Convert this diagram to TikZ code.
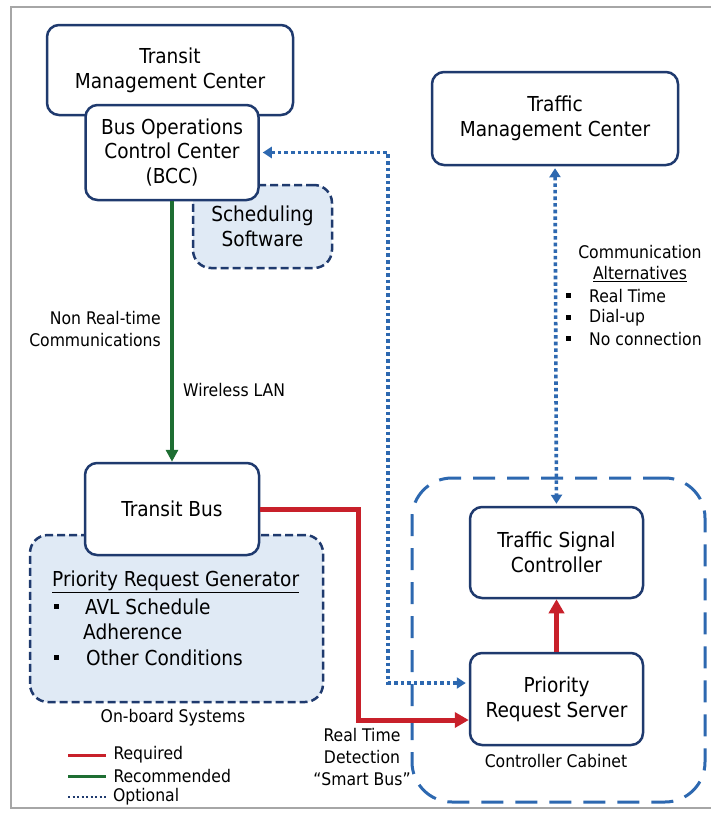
\documentclass[tikz,border=0pt]{standalone}
\usepackage{fontspec}
\setmainfont{DejaVu Sans Condensed}
\usetikzlibrary{arrows.meta}
\definecolor{navy}{HTML}{1F3A6E}
\definecolor{mblue}{HTML}{2D68B0}
\definecolor{lfill}{HTML}{E0EAF5}
\definecolor{rred}{HTML}{C8202A}
\definecolor{ggreen}{HTML}{1E6E32}
\newcommand{\bigf}{\fontsize{20.6}{24.8}\selectfont}
\newcommand{\smallf}{\fontsize{17.4}{22}\selectfont}
\newcommand{\sqb}{\rule[2pt]{5pt}{5pt}}
\begin{document}
\begin{tikzpicture}[x=1pt,y=-1pt,
  box/.style={draw=navy, line width=2.5pt, rounded corners=12pt, fill=white, align=center, inner sep=0pt, font=\bigf},
  dbox/.style={draw=navy, dash pattern=on 8pt off 4pt, line width=2.5pt, rounded corners=18pt, fill=lfill, inner sep=0pt},
  cabbox/.style={draw=mblue, line width=3pt, dash pattern=on 22pt off 12pt, rounded corners=40pt, inner sep=0pt},
  opt/.style={draw=mblue, line width=3.6pt, dash pattern=on 3.6pt off 3pt},
  req/.style={draw=rred, line width=5pt, line join=miter},
  rec/.style={draw=ggreen, line width=3.5pt},
  lbl/.style={font=\smallf, inner sep=0pt, text=black},
  blbl/.style={font=\bigf, inner sep=0pt, text=black},
]
\useasboundingbox[fill=white] (0,0) rectangle (711,817);
% frame
\draw[gray!70, line width=1.5pt] (711,7) -- (11,7) -- (11,808) -- (711,808);

% controller cabinet (behind)
\node[cabbox, minimum width=293pt, minimum height=324pt] (cab) at (558.5,640) {};

% top-left cluster
\node[box, minimum width=246pt, minimum height=90pt] (tmc) at (170,70) {Transit\\Management Center};
\node[dbox, minimum width=139pt, minimum height=83pt, align=center, font=\bigf] (sched) at (262.5,226.5) {Scheduling\\Software};
\node[box, minimum width=173pt, minimum height=95pt] (bcc) at (172,152.5) {Bus Operations\\Control Center\\(BCC)};

% traffic management center
\node[box, minimum width=246pt, minimum height=93pt] (trmc) at (555,118.5) {Traffic\\Management Center};

% on-board
\node[dbox, minimum width=293pt, minimum height=167pt] (prg) at (176.5,618.5) {};
\node[box, minimum width=174pt, minimum height=92pt] (tbus) at (172,509) {Transit Bus};
\node[blbl, anchor=west] (prgt) at (52,582) {\underline{Priority Request Generator}};
\node[blbl, anchor=west] (b1) at (54,607) {\sqb};
\node[blbl, anchor=west] (l1) at (85,607) {AVL Schedule};
\node[blbl, anchor=west] (l2) at (83,632) {Adherence};
\node[blbl, anchor=west] (b2) at (54,658) {\sqb};
\node[blbl, anchor=west] (l3) at (86,658) {Other Conditions};
\node[lbl] (obs) at (173,718) {On-board Systems};

% cabinet contents
\node[box, minimum width=173pt, minimum height=91pt] (tsc) at (556.5,552.5) {Traffic Signal\\Controller};
\node[box, minimum width=173pt, minimum height=92pt] (prs) at (556.5,699) {Priority\\Request Server};
\node[lbl] (cc) at (556,761) {Controller Cabinet};

% connectors
\draw[rec, -{Triangle[width=12pt,length=12pt]}] (bcc.south) -- (tbus.north);
\node[lbl, align=right, anchor=east] (nrt) at (161,329) {Non Real-time\\Communications};
\node[lbl, anchor=west] (wlan) at (183,390) {Wireless LAN};

\draw[req, -{Triangle[width=15pt,length=14pt]}] (tbus.east) -| (358,720) -- ([yshift=-21pt]prs.west);
\node[lbl, align=center] (rtd) at (362,757) {Real Time\\Detection\\``Smart Bus''};

\draw[req, -{Triangle[width=15pt,length=14pt]}] (prs.north) -- (tsc.south);

\draw[opt, {Triangle[width=11pt,length=9pt]}-{Triangle[width=11pt,length=9pt]}, shorten <=3pt, shorten >=3pt] (bcc.east) -| (388,683) -- ([yshift=16pt]prs.west);

\draw[opt, {Triangle[width=11pt,length=9pt]}-{Triangle[width=11pt,length=9pt]}, shorten <=2pt, shorten >=2pt] (trmc.south) -- (tsc.north);

\node[lbl] (ca1) at (640,252) {Communication};
\node[lbl] (ca2) at (640,274) {\underline{Alternatives}};
\node[lbl, anchor=west] (cb1) at (566,296) {\sqb};
\node[lbl, anchor=west] (ct1) at (589,296) {Real Time};
\node[lbl, anchor=west] (cb2) at (566,318) {\sqb};
\node[lbl, anchor=west] (ct2) at (589,318) {Dial-up};
\node[lbl, anchor=west] (cb3) at (566,339) {\sqb};
\node[lbl, anchor=west] (ct3) at (589,339) {No connection};

% legend
\draw[rred, line width=3pt] (68,755) -- (106,755) node[lbl, anchor=west, xshift=6pt] (lg1) {Required};
\draw[ggreen, line width=3pt] (68,776) -- (106,776) node[lbl, anchor=west, xshift=6pt] (lg2) {Recommended};
\draw[navy, line width=2pt, dash pattern=on 2pt off 2.5pt] (68,797) -- (106,797) node[lbl, anchor=west, xshift=6pt] (lg3) {Optional};
\end{tikzpicture}
\end{document}
